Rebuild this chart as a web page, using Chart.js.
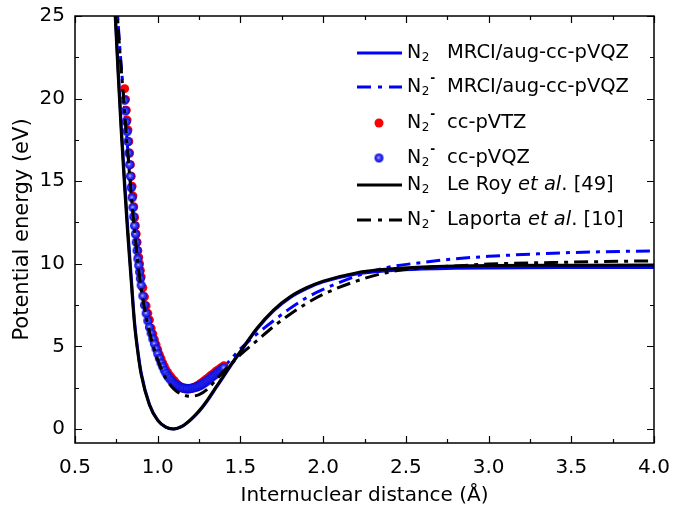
<!DOCTYPE html>
<html>
<head>
<meta charset="utf-8">
<script src="https://cdn.jsdelivr.net/npm/chart.js@4.4.1/dist/chart.umd.min.js"></script>
<style>
  html, body { margin: 0; padding: 0; background: #fff; }
  #wrap { width: 685px; height: 511px; }
</style>
</head>
<body>
<div id="wrap"><canvas id="c" width="685" height="511"></canvas></div>
<script>
// --- data (r in Å, energy in eV) ---
const xTicks = [0.5, 1.0, 1.5, 2.0, 2.5, 3.0, 3.5, 4.0];
const xMinor = [0.75, 1.25, 1.75, 2.25, 2.75, 3.25, 3.75];
const yTicks = [0, 5, 10, 15, 20, 25];
const yMinor = [2.5, 7.5, 12.5, 17.5, 22.5];

// N2 Le Roy et al. [49]
const leRoyR = [0.74,0.76,0.78,0.80,0.82,0.84,0.86,0.88,0.90,0.95,1.00,1.05,1.094,1.15,1.20,1.25,1.30,1.35,1.40,1.45,1.50,1.60,1.70,1.80,1.90,2.00,2.20,2.40,2.60,2.80,3.00,3.50,4.00];
const leRoyE = [25.6,21.6,17.9,14.6,11.6,8.9,6.3,4.6,3.3,1.45,0.52,0.11,0,0.18,0.58,1.1,1.75,2.5,3.25,4.0,4.7,6.1,7.2,8.0,8.55,8.95,9.45,9.68,9.8,9.86,9.89,9.91,9.92];
// N2 MRCI/aug-cc-pVQZ
const n2MrciE = [25.9,22.0,18.3,15.0,12.0,9.2,6.5,4.75,3.4,1.5,0.53,0.1,0,0.17,0.55,1.05,1.7,2.45,3.2,3.95,4.65,6.05,7.15,7.95,8.5,8.9,9.38,9.58,9.68,9.73,9.75,9.77,9.78];

// N2- Laporta et al. [10] and N2- MRCI/aug-cc-pVQZ
const anionR = [0.75,0.77,0.79,0.80,0.82,0.84,0.86,0.88,0.90,0.95,1.00,1.05,1.10,1.15,1.20,1.25,1.30,1.35,1.40,1.45,1.50,1.60,1.70,1.80,1.90,2.00,2.20,2.40,2.60,2.80,3.00,3.50,4.00];
const laportaE = [26.0,23.0,20.5,19.2,16.6,14.2,12.0,10.1,8.5,5.9,4.2,3.05,2.4,2.08,1.98,2.08,2.4,2.95,3.5,4.0,4.5,5.35,6.2,6.95,7.6,8.15,8.95,9.5,9.75,9.87,9.98,10.1,10.18];
const anionMrciE = [26.2,23.2,20.7,19.4,16.8,14.4,12.2,10.3,8.7,6.2,4.5,3.4,2.75,2.4,2.3,2.4,2.72,3.2,3.75,4.3,4.85,5.75,6.55,7.3,7.95,8.45,9.25,9.8,10.08,10.3,10.45,10.68,10.78];

// N2- cc-pVTZ / cc-pVQZ points
const ptsR = [0.800,0.805,0.810,0.815,0.820,0.825,0.830,0.835,0.840,0.845,0.850,0.855,0.860,0.865,0.870,0.875,0.880,0.885,0.890,0.895,0.900,
  0.91,0.92,0.93,0.94,0.95,0.96,0.97,0.98,0.99,1.00,1.01,1.02,1.03,1.04,1.05,1.06,1.07,1.08,1.09,1.10,
  1.11,1.12,1.13,1.14,1.15,1.16,1.17,1.18,1.19,1.20,1.21,1.22,1.23,1.24,1.25,1.26,1.27,1.28,1.29,1.30,
  1.31,1.32,1.33,1.34,1.35,1.36,1.37,1.38,1.39,1.40];
const vtzE = [20.6,19.95,19.3,18.7,18.1,17.4,16.7,16.0,15.3,14.7,14.1,13.45,12.8,12.3,11.8,11.3,10.8,10.4,10.0,9.6,9.2,
  8.55,8.0,7.45,7.0,6.6,6.1,5.75,5.4,5.1,4.8,4.5,4.25,4.0,3.78,3.58,3.42,3.27,3.15,3.02,2.92,
  2.78,2.68,2.6,2.53,2.48,2.44,2.42,2.41,2.42,2.44,2.47,2.51,2.56,2.62,2.68,2.76,2.83,2.9,2.98,3.06,
  3.14,3.22,3.3,3.38,3.46,3.54,3.61,3.68,3.75,3.82];
const vqzE = [19.9,19.25,18.6,18.0,17.4,16.7,16.0,15.3,14.6,14.0,13.4,12.85,12.3,11.8,11.3,10.8,10.3,9.9,9.5,9.1,8.7,
  8.05,7.5,7.0,6.55,6.15,5.8,5.45,5.15,4.85,4.55,4.27,4.0,3.77,3.55,3.37,3.2,3.07,2.95,2.85,2.75,
  2.68,2.62,2.57,2.52,2.49,2.47,2.46,2.45,2.45,2.46,2.48,2.5,2.53,2.57,2.61,2.66,2.72,2.78,2.85,2.92,
  3.0,3.08,3.16,3.24,3.32,3.4,3.48,3.55,3.63,3.7];

const FONT = "'DejaVu Sans', 'Liberation Sans', Arial, sans-serif";
const pts = (xs, ys) => xs.map((x, i) => ({ x, y: ys[i] }));

// shaded blue ball used for the cc-pVQZ symbols
function makeBall(r) {
  const c = document.createElement('canvas');
  c.width = c.height = 2 * r + 2;
  const g = c.getContext('2d');
  const m = r + 1;
  const grad = g.createRadialGradient(m - 0.5, m - 0.5, 0, m, m, r);
  grad.addColorStop(0, '#f0f0ff');
  grad.addColorStop(0.3, '#5050ff');
  grad.addColorStop(1, '#0000d8');
  g.fillStyle = grad;
  g.beginPath(); g.arc(m, m, r, 0, Math.PI * 2); g.fill();
  return c;
}
const ball = makeBall(4.5);

// legend rows (custom, drawn on canvas)
const legendRows = [
  { y: 53,  kind: 'solid', color: '#0000ff', anion: false, text: [['MRCI/aug-cc-pVQZ', false]] },
  { y: 87,  kind: 'dash',  color: '#0000ff', anion: true,  text: [['MRCI/aug-cc-pVQZ', false]] },
  { y: 123, kind: 'red',   color: '#ff0000', anion: true,  text: [['cc-pVTZ', false]] },
  { y: 158, kind: 'ball',  color: '#0000ff', anion: true,  text: [['cc-pVQZ', false]] },
  { y: 185, kind: 'solid', color: '#000000', anion: false, text: [['Le Roy ', false], ['et al', true], ['. [49]', false]] },
  { y: 220, kind: 'dash',  color: '#000000', anion: true,  text: [['Laporta ', false], ['et al', true], ['. [10]', false]] },
];

const legendPlugin = {
  id: 'customLegend',
  afterDraw(chart) {
    const ctx = chart.ctx;
    ctx.save();
    legendRows.forEach(row => {
      const y = row.y;
      if (row.kind === 'solid' || row.kind === 'dash') {
        ctx.strokeStyle = row.color; ctx.lineWidth = 3;
        ctx.setLineDash(row.kind === 'dash' ? [14, 7, 4, 7] : []);
        ctx.beginPath(); ctx.moveTo(357, y); ctx.lineTo(402, y); ctx.stroke();
        ctx.setLineDash([]);
      } else if (row.kind === 'red') {
        ctx.fillStyle = '#ff0000';
        ctx.beginPath(); ctx.arc(379, y, 4.5, 0, Math.PI * 2); ctx.fill();
      } else {
        ctx.drawImage(ball, 379 - ball.width / 2, y - ball.height / 2);
      }
      ctx.fillStyle = '#000';
      ctx.textBaseline = 'middle';
      ctx.font = '19px ' + FONT;
      ctx.fillText('N', 407, y);
      const wN = ctx.measureText('N').width;
      ctx.font = '12px ' + FONT;
      ctx.fillText('2', 407 + wN + 0.5, y + 5);
      if (row.anion) {
        const w2 = ctx.measureText('2').width;
        ctx.font = 'bold 12px ' + FONT;
        ctx.fillText('-', 407 + wN + w2 + 1.5, y - 8);
      }
      let x = 447;
      row.text.forEach(([t, it]) => {
        ctx.font = (it ? 'italic ' : '') + '19.5px ' + FONT;
        ctx.fillText(t, x, y);
        x += ctx.measureText(t).width;
      });
    });
    ctx.restore();
  }
};

// frame + inward ticks on all four sides
const framePlugin = {
  id: 'frameTicks',
  afterDraw(chart) {
    const { ctx, chartArea: a, scales: { x, y } } = chart;
    ctx.save();
    ctx.strokeStyle = '#000';
    ctx.lineWidth = 1.5;
    ctx.strokeRect(a.left, a.top, a.right - a.left, a.bottom - a.top);
    ctx.lineWidth = 1.2;
    ctx.beginPath();
    const xt = (v, len) => {
      const px = Math.round(x.getPixelForValue(v)) + 0.5;
      ctx.moveTo(px, a.bottom); ctx.lineTo(px, a.bottom - len);
      ctx.moveTo(px, a.top); ctx.lineTo(px, a.top + len);
    };
    const yt = (v, len) => {
      const py = Math.round(y.getPixelForValue(v)) + 0.5;
      ctx.moveTo(a.left, py); ctx.lineTo(a.left + len, py);
      ctx.moveTo(a.right, py); ctx.lineTo(a.right - len, py);
    };
    xTicks.forEach(v => xt(v, 7));
    xMinor.forEach(v => xt(v, 4));
    yTicks.forEach(v => yt(v, 7));
    yMinor.forEach(v => yt(v, 4));
    ctx.stroke();
    ctx.restore();
  }
};

const lineDs = (label, xs, ys, color, dash) => ({
  label, data: pts(xs, ys), showLine: true, borderColor: color, backgroundColor: color,
  borderWidth: 3, borderDash: dash, pointRadius: 0, cubicInterpolationMode: 'monotone'
});

new Chart(document.getElementById('c'), {
  type: 'scatter',
  data: {
    datasets: [
      lineDs('N2 Le Roy et al. [49]', leRoyR, leRoyE, '#000000', []),
      lineDs('N2- Laporta et al. [10]', anionR, laportaE, '#000000', [14, 6, 4, 6]),
      { label: 'N2- cc-pVQZ', data: pts(ptsR, vqzE), pointStyle: ball, pointRadius: 4.5, showLine: false },
      { label: 'N2- cc-pVTZ', data: pts(ptsR, vtzE), pointStyle: 'circle', pointRadius: 4.5,
        backgroundColor: '#ff0000', borderColor: '#ff0000', borderWidth: 0, showLine: false },
      lineDs('N2- MRCI/aug-cc-pVQZ', anionR, anionMrciE, '#0000ff', [14, 6, 4, 6]),
      lineDs('N2 MRCI/aug-cc-pVQZ', leRoyR, n2MrciE, '#0000ff', []),
    ]
  },
  options: {
    responsive: false,
    animation: false,
    devicePixelRatio: 1,
    layout: { padding: { top: 16, right: 31, left: 0, bottom: 0 } },
    plugins: { legend: { display: false }, tooltip: { enabled: false } },
    scales: {
      x: {
        type: 'linear', min: 0.5, max: 4.0,
        grid: { display: false, drawTicks: false },
        border: { display: false },
        afterBuildTicks: s => { s.ticks = xTicks.map(v => ({ value: v })); },
        afterFit: s => { s.height = 68; s.paddingLeft = 0; s.paddingRight = 0; },
        ticks: { color: '#000', padding: 13, maxRotation: 0, font: { family: FONT, size: 20 },
                 callback: v => v.toFixed(1) },
        title: { display: true, text: 'Internuclear distance (Å)', color: '#000',
                 font: { family: FONT, size: 20 }, padding: { top: 0, bottom: 3 } }
      },
      y: {
        type: 'linear', min: -0.85, max: 25,
        grid: { display: false, drawTicks: false },
        border: { display: false },
        afterBuildTicks: s => { s.ticks = yTicks.map(v => ({ value: v })); },
        afterFit: s => { s.width = 75; s.paddingTop = 0; s.paddingBottom = 0; },
        ticks: { color: '#000', padding: 10, font: { family: FONT, size: 20 } },
        title: { display: true, text: 'Potential energy (eV)', color: '#000',
                 font: { family: FONT, size: 21 }, padding: { top: 10, bottom: 0 } }
      }
    }
  },
  plugins: [framePlugin, legendPlugin]
});
</script>
</body>
</html>
